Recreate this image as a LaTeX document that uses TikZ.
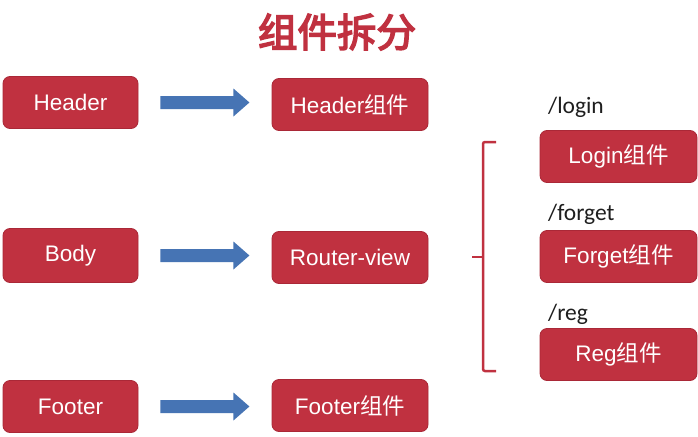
\documentclass[tikz,border=0pt]{standalone}
\usepackage{fontspec}
\setmainfont{Liberation Sans}
\newfontfamily\cjk{Noto Sans CJK SC}
\newfontfamily\cjkbold{Noto Sans CJK SC}[FakeBold=4]
\newfontfamily\carl{Carlito}
\usetikzlibrary{calc}
\definecolor{boxred}{RGB}{192,49,64}
\definecolor{boxedge}{RGB}{170,40,55}
\definecolor{arrowblue}{RGB}{70,116,180}
\definecolor{labgray}{RGB}{30,30,30}
\tikzset{
  redbox/.style={draw=boxedge, line width=0.8pt, fill=boxred, rounded corners=7pt,
    text=white, font=\fontsize{22.5}{25}\selectfont, inner sep=0pt},
  leftbox/.style={redbox, minimum width=135pt, minimum height=52pt},
  midbox/.style={redbox, minimum width=156pt, minimum height=52pt},
  rightbox/.style={redbox, minimum width=157pt, minimum height=52pt},
  pathlabel/.style={anchor=west, text=labgray, font=\carl\fontsize{23.5}{26}\selectfont, inner sep=0pt},
  bracketline/.style={draw=boxred, line width=2.5pt, rounded corners=2pt},
}
\newcommand\blockarrow[1]{%
  \fill[arrowblue] ($(#1.east)+(22,-6.5)$) -- ($(#1.east)+(95,-6.5)$) -- ($(#1.east)+(95,-14)$)
    -- ($(#1.east)+(111,0)$) -- ($(#1.east)+(95,14)$) -- ($(#1.east)+(95,6.5)$)
    -- ($(#1.east)+(22,6.5)$) -- cycle;}
\begin{document}
\begin{tikzpicture}[x=1pt,y=-1pt]
\useasboundingbox (0,0) rectangle (698,436);
\fill[white] (0,0) rectangle (698,436);
\node[text=boxred, font=\cjkbold\fontsize{39.5}{42}\selectfont, inner sep=0pt] (title) at (337,32) {组件拆分};

\node[leftbox] (hdr) at (70.5,102.5) {Header};
\node[leftbox, minimum height=54pt] (body) at (70.5,255.5) {Body};
\node[leftbox] (ftr) at (70.5,406.5) {Footer};

\node[midbox] (hdrc) at (350,104.5) {Header{\cjk 组件}};
\node[midbox] (rv) at (350,257.5) {Router-view};
\node[midbox] (ftrc) at (350,405.5) {Footer{\cjk 组件}};

\blockarrow{hdr}
\blockarrow{body}
\blockarrow{ftr}

\coordinate (bt) at (496,142);
\coordinate (bb) at (496,371);
\coordinate (bm) at (472,257);
\draw[bracketline] (bt) -- (483,142) -- (483,371) -- (bb);
\draw[bracketline] (483,257) -- (bm);

\node[pathlabel] (llog) at (548,107) {/login};
\node[rightbox] (login) at (618.5,156.5) {Login{\cjk 组件}};
\node[pathlabel] (lfor) at (548,214) {/forget};
\node[rightbox] (forget) at (618.5,256.5) {Forget{\cjk 组件}};
\node[pathlabel] (lreg) at (548,314) {/reg};
\node[rightbox] (reg) at (618.5,354.5) {Reg{\cjk 组件}};
\end{tikzpicture}
\end{document}
